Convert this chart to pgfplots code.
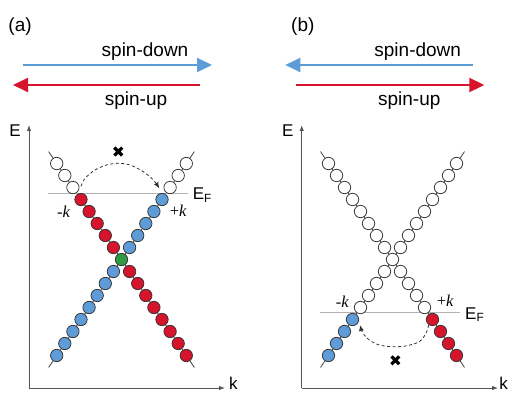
\documentclass[border=0pt]{standalone}
\usepackage{pgfplots}
\pgfplotsset{compat=1.18}
\usepackage{fontspec}
\setmainfont{Liberation Sans}
\newfontfamily\seriffont{Liberation Serif}
\usetikzlibrary{arrows.meta}

\definecolor{spinblue}{HTML}{5D9CD6}
\definecolor{spinred}{HTML}{D6142B}
\definecolor{dirac}{HTML}{2F9A44}
\definecolor{edge}{HTML}{333333}
\definecolor{bandline}{HTML}{444444}
\definecolor{fermi}{HTML}{B4B4B4}
\definecolor{axisgray}{HTML}{555555}

\newcommand\titlefont{\fontsize{19bp}{22bp}\selectfont}
\newcommand\lbl{\fontsize{17bp}{19bp}\selectfont}
\newcommand\klbl{\seriffont\fontsize{16.5bp}{19bp}\selectfont}

\pgfplotsset{
  bandaxis/.style={
    scale only axis, axis lines=left, ticks=none, clip=false,
    height=263bp, ymin=-10.71, ymax=11.21,
    axis line style={draw=axisgray, line width=1bp,
      -{Latex[length=6bp,width=4.5bp]}},
  },
  dots/.style={only marks, mark=*, mark size=6.2bp,
    mark options={draw=edge, line width=0.75bp, fill=#1}},
  band/.style={draw=bandline, line width=0.8bp, no marks},
  fermiline/.style={draw=fermi, line width=1.2bp, no marks},
  hop/.style={draw=black!80, line width=0.8bp, dash pattern=on 3bp off 2.5bp,
    smooth, no marks, -{Latex[length=6bp,width=5bp]}},
  forbid/.style={only marks, mark=x, mark size=5.5bp,
    mark options={draw=black, line width=3.2bp, solid}},
}

\begin{document}
\begin{tikzpicture}[x=1bp,y=1bp]
\path[use as bounding box] (0,0) rectangle (512,394);

% ---------------- panel (a) ----------------
\begin{axis}[bandaxis, at={(29bp,6bp)}, anchor=south west,
  width=196bp, xmin=-11.42, xmax=12.78]
  \addplot[band] coordinates {(-9,9) (9,-9)};
  \addplot[band] coordinates {(-9,-9) (9,9)};
  \addplot[fermiline] coordinates {(-9.05,5.5) (8.2,5.5)};
  % empty states above E_F
  \addplot[dots=white] coordinates {(-6,6) (-7,7) (-8,8) (6,6) (7,7) (8,8)};
  % spin-up branch (red)
  \addplot[dots=spinred] coordinates {(-1,1) (-2,2) (-3,3) (-4,4) (-5,5)
    (1,-1) (2,-2) (3,-3) (4,-4) (5,-5) (6,-6) (7,-7) (8,-8)};
  % spin-down branch (blue)
  \addplot[dots=spinblue] coordinates {(1,1) (2,2) (3,3) (4,4) (5,5)
    (-1,-1) (-2,-2) (-3,-3) (-4,-4) (-5,-5) (-6,-6) (-7,-7) (-8,-8)};
  % Dirac point
  \addplot[dots=dirac] coordinates {(0,0)};
  % forbidden backscattering
  \addplot[hop] coordinates {(-5.0,6.1) (-4.5,6.77) (-3.27,7.46) (-1.83,7.88)
    (-0.4,8.02) (1.05,7.88) (2.69,7.32) (3.93,6.63) (4.67,5.93)};
  \addplot[forbid] coordinates {(-0.4,9.0)};
  \node[font=\klbl] at (axis cs:-7.14,3.96) {-\textit{k}};
  \node[font=\klbl] at (axis cs:7.0,4.04) {+\textit{k}};
  \node[font=\lbl, anchor=base west, inner sep=0] at (axis cs:8.78,4.96) {E\textsubscript{F}};
  \node[font=\lbl] at (axis cs:-13.15,10.7) {E};
  \node[font=\lbl, inner sep=0] at (axis cs:13.8,-10.35) {k};
\end{axis}

% ---------------- panel (b) ----------------
\begin{axis}[bandaxis, at={(301.7bp,6bp)}, anchor=south west,
  width=196.4bp, xmin=-11.35, xmax=13.2]
  \addplot[band] coordinates {(-9,9) (9,-9)};
  \addplot[band] coordinates {(-9,-9) (9,9)};
  \addplot[fermiline] coordinates {(-9.06,-4.45) (8.44,-4.45)};
  % empty states above E_F
  \addplot[dots=white] coordinates {(0,0)
    (-1,1) (-2,2) (-3,3) (-4,4) (-5,5) (-6,6) (-7,7) (-8,8)
    (1,1) (2,2) (3,3) (4,4) (5,5) (6,6) (7,7) (8,8)
    (-1,-1) (-2,-2) (-3,-3) (-4,-4) (1,-1) (2,-2) (3,-3) (4,-4)};
  % occupied states below E_F
  \addplot[dots=spinblue] coordinates {(-5,-5) (-6,-6) (-7,-7) (-8,-8)};
  \addplot[dots=spinred] coordinates {(5,-5) (6,-6) (7,-7) (8,-8)};
  % forbidden backscattering
  \addplot[hop] coordinates {(4.53,-5.46) (4.19,-6.15) (3.35,-6.85) (1.69,-7.2)
    (0.03,-7.27) (-1.65,-7.13) (-2.9,-6.71) (-3.73,-6.1) (-4.06,-5.46)};
  \addplot[forbid] coordinates {(0.35,-8.4)};
  \node[font=\klbl] at (axis cs:-6.25,-3.54) {-\textit{k}};
  \node[font=\klbl] at (axis cs:6.6,-3.48) {+\textit{k}};
  \node[font=\lbl, anchor=base west, inner sep=0] at (axis cs:9.06,-4.98) {E\textsubscript{F}};
  \node[font=\lbl] at (axis cs:-13.1,10.7) {E};
  \node[font=\lbl, inner sep=0] at (axis cs:13.9,-10.35) {k};
\end{axis}

% ---------------- spin directions ----------------
\tikzset{spinarrow/.style={line width=2bp, -{Triangle[length=15bp,width=14bp]}}}
\draw[spinarrow, spinblue] (23,329) -- (212,329);
\draw[spinarrow, spinred] (200,309) -- (13,309);
\draw[spinarrow, spinblue] (472.7,329) -- (285.3,329);
\draw[spinarrow, spinred] (296,309) -- (484.3,309);

\node[font=\titlefont, anchor=base, inner sep=0] at (145,337.3) {spin-down};
\node[font=\titlefont, anchor=base, inner sep=0] at (136,289) {spin-up};
\node[font=\titlefont, anchor=base, inner sep=0] at (417.7,337.3) {spin-down};
\node[font=\titlefont, anchor=base, inner sep=0] at (409.3,289) {spin-up};

\node[font=\titlefont, anchor=base west, inner sep=0] at (8.3,363) {(a)};
\node[font=\titlefont, anchor=base west, inner sep=0] at (291,363) {(b)};
\end{tikzpicture}
\end{document}
